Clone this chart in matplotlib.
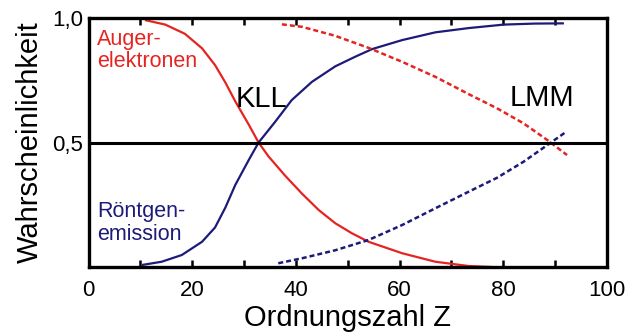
import numpy as np
import matplotlib
matplotlib.use("Agg")
import matplotlib.pyplot as plt

plt.rcParams['font.family'] = ['Liberation Sans', 'DejaVu Sans']

# KLL: Auger (rot) und Roentgen (blau), durchgezogen
kll_auger_z = [10.9, 14.8, 18.6, 21.9, 24.4, 26.4, 28.3, 30.9, 32.8, 34.7, 37.9, 41.2,
               44.4, 47.6, 50.8, 54.0, 60.5, 66.9, 73.3, 77.8]
kll_auger_p = [0.99, 0.972, 0.935, 0.877, 0.81, 0.74, 0.665, 0.572, 0.5, 0.445, 0.368, 0.295,
               0.23, 0.177, 0.137, 0.103, 0.057, 0.023, 0.006, 0.002]
kll_xray_z = [10.3, 14.1, 18.0, 21.9, 24.4, 26.4, 28.3, 30.9, 32.8, 36.0, 39.2, 43.1,
              47.6, 51.4, 54.7, 60.5, 66.9, 73.3, 80.1, 86.0, 91.7]
kll_xray_p = [0.01, 0.023, 0.05, 0.103, 0.16, 0.24, 0.33, 0.43, 0.5, 0.583, 0.67, 0.743,
              0.805, 0.843, 0.874, 0.91, 0.941, 0.958, 0.972, 0.976, 0.977]

# LMM: gestrichelt
lmm_auger_z = [37.3, 41.2, 47.6, 54.0, 60.5, 66.9, 73.5, 78.8, 83.9, 88.5, 92.3]
lmm_auger_p = [0.973, 0.963, 0.927, 0.879, 0.823, 0.763, 0.692, 0.637, 0.577, 0.51, 0.45]
lmm_xray_z = [36.6, 41.2, 47.6, 54.0, 60.5, 66.9, 73.5, 78.8, 83.9, 88.5, 92.0]
lmm_xray_p = [0.017, 0.037, 0.069, 0.11, 0.17, 0.237, 0.305, 0.359, 0.423, 0.49, 0.541]

xticks = list(range(0, 101, 10))
xtick_labels = [str(v) if v % 20 == 0 else "" for v in xticks]
yticks = [0.5, 1.0]
ytick_labels = ["0,5", "1,0"]

red = '#e52421'
blue = '#1d1b78'

fig = plt.figure(figsize=(6.27, 3.32), dpi=100)
ax = fig.add_axes([0.1412, 0.1943, 0.968 - 0.1412, 0.947 - 0.1943])

kw = dict(solid_joinstyle='round', solid_capstyle='butt')
ax.plot(kll_auger_z, kll_auger_p, color=red, lw=1.6, **kw)
ax.plot(kll_xray_z, kll_xray_p, color=blue, lw=1.6, **kw)
ax.plot(lmm_auger_z, lmm_auger_p, color=red, lw=1.8, dashes=(2.0, 1.2), **kw)
ax.plot(lmm_xray_z, lmm_xray_p, color=blue, lw=1.8, dashes=(2.0, 1.2), **kw)
ax.axhline(0.5, color='black', lw=2.2)

ax.set_xlim(0, 100)
ax.set_ylim(0, 1.0)
ax.set_xticks(xticks)
ax.set_xticklabels(xtick_labels)
ax.set_yticks(yticks)
ax.set_yticklabels(ytick_labels)
ax.xaxis.set_ticks_position('both')
ax.xaxis.set_tick_params(which='major', direction='in', length=5, width=1.8,
                         color='black', labelsize=16, pad=9)
ax.yaxis.set_tick_params(length=0, labelsize=16, pad=4)
for s in ax.spines.values():
    s.set_linewidth(2.4)

ax.set_xlabel("Ordnungszahl Z", fontsize=21, labelpad=2)
ax.set_ylabel("Wahrscheinlichkeit", fontsize=21, labelpad=6)

ax.text(1.6, 0.955, "Auger-\nelektronen", color=red, fontsize=15.5, va='top', ha='left', linespacing=1.1)
ax.text(1.6, 0.265, "Röntgen-\nemission", color=blue, fontsize=15.5, va='top', ha='left', linespacing=1.1)
ax.text(28.3, 0.642, "KLL", fontsize=21, va='baseline', ha='left')
ax.text(81.2, 0.646, "LMM", fontsize=21, va='baseline', ha='left')

fig.savefig("out.png", dpi=100)
